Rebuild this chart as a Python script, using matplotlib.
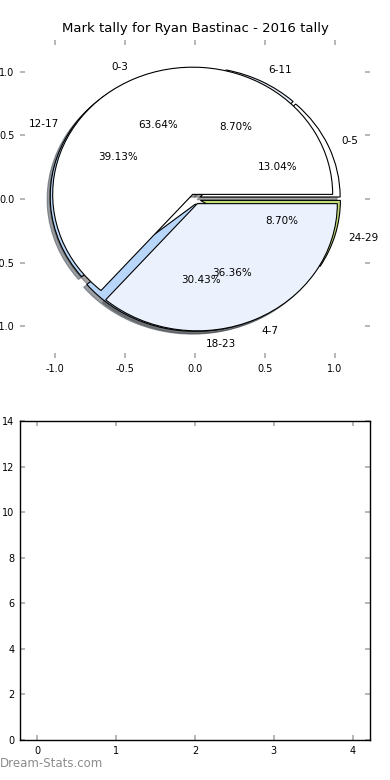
import matplotlib
matplotlib.use("Agg")
import matplotlib.pyplot as plt

plt.rcParams['axes.unicode_minus'] = False

# ---- data ----
outer_labels = ['0-5', '6-11', '12-17', '18-23', '24-29']
outer_values = [3, 2, 9, 7, 2]
inner_labels = ['0-3', '4-7']
inner_values = [7, 4]
title = 'Mark tally for Ryan Bastinac - 2016 tally'
x_ticks_pie = [-1.0, -0.5, 0.0, 0.5, 1.0]
y_ticks_pie = [-1.0, -0.5, 0.0, 0.5, 1.0]
x_ticks_bottom = [0, 1, 2, 3, 4]
y_ticks_bottom = [0, 2, 4, 6, 8, 10, 12, 14]

# ---- style ----
outer_colors = ['#ffffff', '#e9f0fc', '#bad6f9', '#b8d5fa', '#c3df7c']
inner_colors = ['#ffffff', '#ecf2fd']
explode_amt = 0.04
tick_color = '#aaaaaa'

fig = plt.figure(figsize=(3.9, 7.8), dpi=100)
ax1 = fig.add_axes([0.0513, 0.541, 0.8974, 0.4077])
ax2 = fig.add_axes([0.0513, 0.0513, 0.8974, 0.409])

wprops = {'edgecolor': 'black', 'linewidth': 0.8}
shadow = {'ox': -0.016, 'oy': -0.016}

ax1.pie(outer_values, labels=outer_labels, colors=outer_colors,
        explode=[explode_amt] * len(outer_values), autopct='%1.2f%%',
        shadow=shadow, wedgeprops=wprops, textprops={'fontsize': 7.5},
        frame=True)
ax1.pie(inner_values, labels=inner_labels, colors=inner_colors,
        explode=[explode_amt] * len(inner_values), autopct='%1.2f%%',
        shadow=shadow, wedgeprops=wprops, textprops={'fontsize': 7.5},
        frame=True)
ax1.set_aspect('auto')
ax1.set_xlim(-1.25, 1.25)
ax1.set_ylim(-1.25, 1.25)
ax1.set_xticks(x_ticks_pie)
ax1.set_yticks(y_ticks_pie)
ax1.set_frame_on(False)
ax1.set_title(title, fontsize=9.5, pad=6)

ax2.set_xlim(-0.22, 4.22)
ax2.set_ylim(0, 14)
ax2.set_xticks(x_ticks_bottom)
ax2.set_yticks(y_ticks_bottom)
for s in ax2.spines.values():
    s.set_linewidth(1.0)
    s.set_color('black')

for ax in (ax1, ax2):
    ax.tick_params(direction='in', length=3.5, width=1.2, color=tick_color,
                   top=True, right=True, labelsize=7, pad=4)

fig.text(0.0, 0.0125, 'Dream-Stats.com', fontsize=8.5, color='#8c8c8c',
         ha='left', va='bottom', fontweight='medium')

fig.savefig('out.png', dpi=100)
